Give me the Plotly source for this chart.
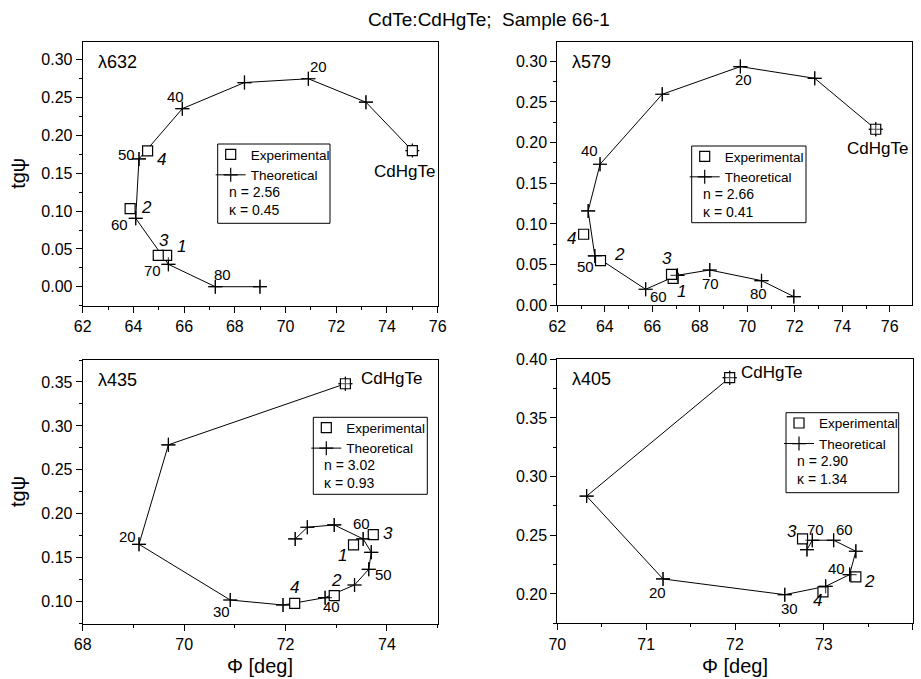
import plotly.graph_objects as go

W, H = 921, 679
FONT = "Liberation Sans, Arial, sans-serif"

# ---------------- data ----------------
# lambda = 632 nm
x632_theo = [75.00, 73.17, 70.90, 68.38, 65.93, 64.22, 64.09, 65.38, 67.23, 68.99]
y632_theo = [0.180, 0.244, 0.275, 0.270, 0.2355, 0.169, 0.0904, 0.0296, 0.000, 0.000]
lab632_theo = ["", "", "20", "", "40", "50", "60", "70", "80", ""]
x632_exp = [75.00, 65.31, 63.87, 64.98, 64.56]
y632_exp = [0.180, 0.0415, 0.1032, 0.0415, 0.1795]
lab632_exp = ["CdHgTe", "1", "2", "3", "4"]
n632, k632 = "2.56", "0.45"

# lambda = 579 nm
x579_theo = [75.41, 72.84, 69.71, 66.42, 63.80, 63.30, 63.58, 65.72, 67.06, 68.42, 70.60, 71.96]
y579_theo = [0.2164, 0.279, 0.2934, 0.2594, 0.1734, 0.116, 0.0607, 0.0197, 0.0369, 0.0434, 0.0303, 0.0107]
lab579_theo = ["", "", "20", "", "40", "", "50", "60", "", "70", "80", ""]
x579_exp = [75.41, 66.88, 63.82, 66.81, 63.11]
y579_exp = [0.2164, 0.033, 0.0549, 0.038, 0.0873]
lab579_exp = ["CdHgTe", "1", "2", "3", "4"]
n579, k579 = "2.66", "0.41"

# lambda = 435 nm
x435_theo = [73.18, 69.69, 69.11, 70.91, 71.95, 72.78, 73.36, 73.64, 73.69, 73.53, 72.96, 72.43, 72.19]
y435_theo = [0.348, 0.2785, 0.1653, 0.1019, 0.0962, 0.1046, 0.119, 0.1368, 0.1562, 0.1714, 0.1873, 0.1847, 0.1714]
lab435_theo = ["", "", "20", "30", "", "40", "", "50", "", "60", "", "", ""]
x435_exp = [73.18, 73.34, 72.96, 73.73, 72.18]
y435_exp = [0.348, 0.1646, 0.1068, 0.1763, 0.098]
lab435_exp = ["CdHgTe", "1", "2", "3", "4"]
n435, k435 = "3.02", "0.93"

# lambda = 405 nm
x405_theo = [71.94, 70.33, 71.19, 72.56, 73.02, 73.29, 73.36, 73.11, 72.87, 72.81]
y405_theo = [0.3843, 0.2834, 0.2128, 0.1994, 0.2065, 0.2165, 0.2364, 0.2458, 0.2458, 0.2378]
lab405_theo = ["", "", "20", "30", "", "40", "", "60", "70", ""]
x405_exp = [71.94, 73.36, 72.76, 72.99]
y405_exp = [0.3843, 0.2145, 0.2469, 0.2017]
lab405_exp = ["CdHgTe", "2", "3", "4"]
n405, k405 = "2.90", "1.34"

# ---------------- styling / layout (pixel geometry) ----------------
panels = [
    dict(lam="λ632", tx=x632_theo, ty=y632_theo, tl=lab632_theo, ex=x632_exp, ey=y632_exp, el=lab632_exp,
         n=n632, k=k632, box=(82.7, 41.7, 437.7, 306.0), xr=[62, 76], yr=[-0.0255, 0.324],
         xt=2, xm=1, yt=0.05, ym=0.025, y0=0.0, leg=(217.7, 144, 330, 223.3), hide_first_cross=True,
         off={"20": (10, -12), "40": (-7, -12), "50": (-12, -4), "60": (-16, 6), "70": (-16, 6), "80": (7, -12)},
         eoff={"CdHgTe": (-8, 21, "center"), "1": (15, -9, "center"), "2": (16, -1, "center"),
               "3": (6, -15, "center"), "4": (14, 9, "center")}),
    dict(lam="λ579", tx=x579_theo, ty=y579_theo, tl=lab579_theo, ex=x579_exp, ey=y579_exp, el=lab579_exp,
         n=n579, k=k579, box=(557.3, 41.7, 912.3, 305.3), xr=[62, 76.95], yr=[0.0, 0.324],
         xt=2, xm=1, yt=0.05, ym=0.025, y0=0.0, leg=(691.7, 146, 806, 222.7), hide_first_cross=False,
         off={"20": (3, 13), "40": (-11, -14), "50": (-9, 11), "60": (13, 7), "70": (1, 14), "80": (-3, 13)},
         eoff={"CdHgTe": (2, 19, "center"), "1": (8, 13, "center"), "2": (19, -6, "center"),
               "3": (-5, -16, "center"), "4": (-12, 4, "center")}),
    dict(lam="λ435", tx=x435_theo, ty=y435_theo, tl=lab435_theo, ex=x435_exp, ey=y435_exp, el=lab435_exp,
         n=n435, k=k435, box=(82.7, 360.0, 437.7, 624.0), xr=[68, 75], yr=[0.0746, 0.375],
         xt=2, xm=1, yt=0.05, ym=0.025, y0=0.10, leg=(313.3, 417.3, 427.3, 494.3), hide_first_cross=False,
         off={"20": (-11, -8), "30": (-9, 11), "40": (6, 9), "50": (15, 5), "60": (-2, -15)},
         eoff={"CdHgTe": (14, -5, "left"), "1": (-11, 11, "center"), "2": (2, -15, "center"),
               "3": (15, -1, "center"), "4": (0, -16, "center")}),
    dict(lam="λ405", tx=x405_theo, ty=y405_theo, tl=lab405_theo, ex=x405_exp, ey=y405_exp, el=lab405_exp,
         n=n405, k=k405, box=(557.3, 359.3, 912.7, 623.3), xr=[70, 74], yr=[0.175, 0.40],
         xt=1, xm=0.5, yt=0.05, ym=0.025, y0=0.20, leg=(786, 412.7, 898.7, 492.7), hide_first_cross=False,
         off={"20": (-6, 14), "30": (5, 14), "40": (-13, -6), "60": (11, -11), "70": (3, -11)},
         eoff={"CdHgTe": (9, -5, "left"), "2": (14, 5, "center"), "3": (-11, -7, "center"),
               "4": (-5, 9, "center")}),
]


def px_x(p):
    return p / W


def px_y(p):
    return 1 - p / H


fig = go.Figure()
layout = dict(
    width=W, height=H, margin=dict(l=0, r=0, t=0, b=0, pad=0, autoexpand=False),
    paper_bgcolor="white", plot_bgcolor="white",
    font=dict(family=FONT, color="black", size=14),
    showlegend=True, template="none",
)
annotations = []
shapes = []

for i, p in enumerate(panels):
    k = "" if i == 0 else str(i + 1)
    xa, ya = "x" + k, "y" + k
    lg = "legend" + k
    l, t, r, b = p["box"]
    axcommon = dict(showgrid=False, zeroline=False, showline=True, linecolor="black", linewidth=1,
                    mirror=True, ticks="outside", ticklen=6, tickwidth=1, tickcolor="black",
                    automargin=False,
                    tickfont=dict(size=16, family=FONT, color="black"))
    layout["xaxis" + k] = dict(domain=[px_x(l), px_x(r)], range=p["xr"], anchor=ya,
                               tick0=p["xr"][0], dtick=p["xt"],
                               minor=dict(dtick=p["xm"], ticks="outside", ticklen=3, tickcolor="black"),
                               **axcommon)
    layout["yaxis" + k] = dict(domain=[px_y(b), px_y(t)], range=p["yr"], anchor=xa,
                               tick0=p["y0"], dtick=p["yt"], tickformat=".2f",
                               minor=dict(dtick=p["ym"], ticks="outside", ticklen=3, tickcolor="black"),
                               **axcommon)

    # theoretical curve (line + crosses) - legend entry
    fig.add_trace(go.Scatter(x=p["tx"], y=p["ty"], mode="lines+markers", name="Theoretical",
                             xaxis=xa, yaxis=ya, legend=lg,
                             line=dict(color="black", width=1),
                             marker=dict(symbol="cross-thin-open", size=10, color="black",
                                         line=dict(color="black", width=1.2))))
    # experimental squares
    fig.add_trace(go.Scatter(x=p["ex"], y=p["ey"], mode="markers", name="Experimental",
                             xaxis=xa, yaxis=ya, legend=lg,
                             marker=dict(symbol="square", size=10, color="white",
                                         line=dict(color="black", width=1.2))))
    # crosses on top of squares
    sizes = [10] * len(p["tx"])
    if p["hide_first_cross"]:
        sizes[0] = 0
    fig.add_trace(go.Scatter(x=p["tx"], y=p["ty"], mode="markers", showlegend=False,
                             xaxis=xa, yaxis=ya, hoverinfo="skip",
                             marker=dict(symbol="cross-thin-open", size=sizes, color="black",
                                         line=dict(color="black", width=1.2))))

    # legend
    ll, lt, lr, lb = p["leg"]
    layout[lg] = dict(x=px_x(ll - 7), y=px_y(lt - 5), xanchor="left", yanchor="top",
                      bgcolor="rgba(0,0,0,0)", borderwidth=0, traceorder="reversed",
                      font=dict(size=13.5, family=FONT, color="black"), itemwidth=30,
                      tracegroupgap=0)
    shapes.append(dict(type="rect", xref="paper", yref="paper",
                       x0=px_x(ll), x1=px_x(lr), y0=px_y(lb), y1=px_y(lt),
                       line=dict(color="black", width=1), fillcolor="rgba(0,0,0,0)"))
    annotations.append(dict(xref="paper", yref="paper", x=px_x(ll + 9), y=px_y(lt + 48),
                            xanchor="left", yanchor="middle", showarrow=False,
                            text="n = " + p["n"], font=dict(size=14)))
    annotations.append(dict(xref="paper", yref="paper", x=px_x(ll + 9), y=px_y(lt + 66),
                            xanchor="left", yanchor="middle", showarrow=False,
                            text="κ = " + p["k"], font=dict(size=14)))

    # wavelength label
    annotations.append(dict(xref="paper", yref="paper", x=px_x(l + 13), y=px_y(t + 20),
                            xanchor="left", yanchor="middle", showarrow=False,
                            text=p["lam"], font=dict(size=18)))

    # thickness labels on the theoretical curve
    for xv, yv, lab in zip(p["tx"], p["ty"], p["tl"]):
        if lab:
            dx, dy = p["off"][lab]
            annotations.append(dict(xref=xa, yref=ya, x=xv, y=yv, xshift=dx, yshift=-dy,
                                    xanchor="center", yanchor="middle",
                                    showarrow=False, text=lab, font=dict(size=15)))
    # experimental point labels
    for xv, yv, lab in zip(p["ex"], p["ey"], p["el"]):
        dx, dy, anc = p["eoff"][lab]
        txt = lab if lab == "CdHgTe" else "<i>" + lab + "</i>"
        annotations.append(dict(xref=xa, yref=ya, x=xv, y=yv, xshift=dx, yshift=-dy,
                                xanchor=anc, yanchor="middle", showarrow=False, text=txt,
                                font=dict(size=17)))

# axis titles
for yc in [(41.7 + 306) / 2, (360 + 624) / 2]:
    annotations.append(dict(xref="paper", yref="paper", x=px_x(18), y=px_y(yc), textangle=-90,
                            xanchor="center", yanchor="middle",
                            showarrow=False, text="tgψ", font=dict(size=20)))
for xc in [(82.7 + 437.7) / 2, (557.3 + 912.7) / 2]:
    annotations.append(dict(xref="paper", yref="paper", x=px_x(xc), y=px_y(666),
                            xanchor="center", yanchor="middle",
                            showarrow=False, text="Φ [deg]", font=dict(size=20)))

# title
annotations.append(dict(xref="paper", yref="paper", x=px_x(366), y=px_y(19), xanchor="left",
                        yanchor="middle", showarrow=False,
                        text="CdTe:CdHgTe;&nbsp;&nbsp;Sample 66-1", font=dict(size=19)))

layout["annotations"] = annotations
layout["shapes"] = shapes
fig.update_layout(**layout)
fig.write_html("out.html", config={"displayModeBar": False},
               post_script="document.body.style.margin='0px';document.body.style.padding='0px';")
